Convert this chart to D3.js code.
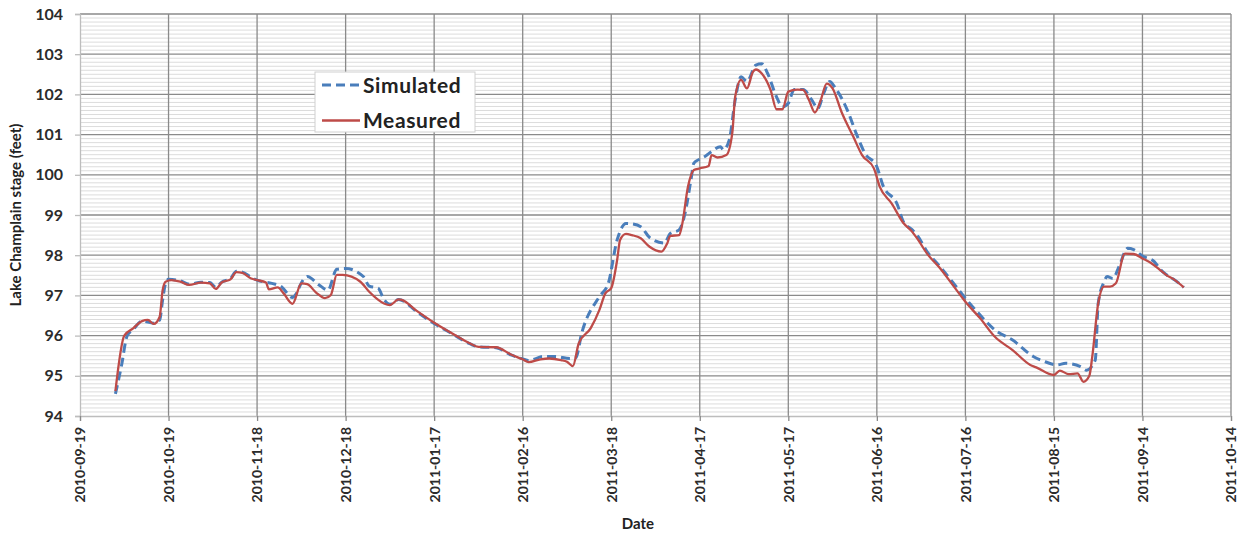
<!DOCTYPE html>
<html>
<head>
<meta charset="utf-8">
<script src="https://cdn.jsdelivr.net/npm/d3@7"></script>
<style>
  html, body { margin: 0; padding: 0; background: #fff; }
  svg { display: block; font-family: Lato, "Open Sans", sans-serif; }
</style>
</head>
<body>
<svg id="chart" width="1247" height="533"></svg>
<script>
// Lake Champlain stage, simulated vs measured (feet)
const xTickLabels = ["2010-09-19","2010-10-19","2010-11-18","2010-12-18","2011-01-17","2011-02-16",
  "2011-03-18","2011-04-17","2011-05-17","2011-06-16","2011-07-16","2011-08-15","2011-09-14","2011-10-14"];
const yTickValues = [94, 95, 96, 97, 98, 99, 100, 101, 102, 103, 104];

const measuredDates = ["2010-10-01","2010-10-04","2010-10-07","2010-10-10","2010-10-12","2010-10-14","2010-10-16","2010-10-17","2010-10-18","2010-10-20",
  "2010-10-23","2010-10-26","2010-10-30","2010-11-02","2010-11-04","2010-11-06","2010-11-09","2010-11-11","2010-11-13","2010-11-16",
  "2010-11-18","2010-11-21","2010-11-22","2010-11-25","2010-11-27","2010-11-30","2010-12-03","2010-12-05","2010-12-08","2010-12-11",
  "2010-12-13","2010-12-15","2010-12-17","2010-12-23","2010-12-26","2010-12-31","2011-01-02","2011-01-05","2011-01-06","2011-01-11",
  "2011-01-17","2011-01-23","2011-01-29","2011-02-01","2011-02-07","2011-02-12","2011-02-16","2011-02-18","2011-02-22","2011-02-25",
  "2011-03-01","2011-03-03","2011-03-05","2011-03-07","2011-03-11","2011-03-14","2011-03-16","2011-03-18","2011-03-20","2011-03-21",
  "2011-03-23","2011-03-25","2011-03-28","2011-03-31","2011-04-04","2011-04-06","2011-04-07","2011-04-10","2011-04-11","2011-04-13",
  "2011-04-15","2011-04-17","2011-04-20","2011-04-21","2011-04-23","2011-04-26","2011-04-28","2011-04-29","2011-05-01","2011-05-03",
  "2011-05-05","2011-05-06","2011-05-08","2011-05-11","2011-05-13","2011-05-15","2011-05-17","2011-05-20","2011-05-22","2011-05-24",
  "2011-05-26","2011-05-28","2011-05-30","2011-06-01","2011-06-04","2011-06-08","2011-06-11","2011-06-15","2011-06-17","2011-06-21",
  "2011-06-25","2011-06-28","2011-06-30","2011-07-03","2011-07-07","2011-07-12","2011-07-16","2011-07-21","2011-07-26","2011-08-01",
  "2011-08-07","2011-08-09","2011-08-15","2011-08-17","2011-08-20","2011-08-23","2011-08-25","2011-08-27","2011-08-28","2011-08-30",
  "2011-09-01","2011-09-03","2011-09-05","2011-09-08","2011-09-11","2011-09-14","2011-09-17","2011-09-20","2011-09-22","2011-09-25",
  "2011-09-28"];
const measuredStage = [94.62,96.00,96.18,96.36,96.39,96.29,96.47,97.13,97.34,97.38,
  97.34,97.26,97.32,97.30,97.16,97.32,97.40,97.58,97.56,97.42,
  97.38,97.32,97.15,97.20,97.05,96.79,97.30,97.28,97.07,96.93,
  97.01,97.51,97.51,97.34,97.09,96.80,96.76,96.90,96.89,96.62,
  96.32,96.06,95.81,95.72,95.71,95.53,95.41,95.34,95.41,95.43,
  95.39,95.35,95.24,95.81,96.18,96.64,97.05,97.18,97.88,98.38,
  98.53,98.50,98.42,98.21,98.09,98.30,98.48,98.50,98.75,99.70,
  100.12,100.16,100.22,100.49,100.43,100.49,101.03,101.94,102.36,102.15,
  102.56,102.62,102.52,102.11,101.63,101.63,102.07,102.12,102.11,101.86,
  101.55,101.86,102.27,102.15,101.57,100.95,100.49,100.16,99.70,99.29,
  98.80,98.58,98.38,98.04,97.71,97.23,96.84,96.43,95.97,95.64,
  95.27,95.21,95.02,95.13,95.04,95.06,94.85,95.00,95.48,96.80,
  97.22,97.22,97.30,98.04,98.03,97.92,97.80,97.63,97.51,97.38,
  97.20];

const simulatedDates = ["2010-10-01","2010-10-03","2010-10-05","2010-10-07","2010-10-10","2010-10-14","2010-10-16","2010-10-17","2010-10-18","2010-10-19",
  "2010-10-23","2010-10-26","2010-10-30","2010-11-02","2010-11-04","2010-11-06","2010-11-09","2010-11-11","2010-11-13","2010-11-16",
  "2010-11-18","2010-11-23","2010-11-26","2010-11-30","2010-12-04","2010-12-05","2010-12-09","2010-12-12","2010-12-15","2010-12-18",
  "2010-12-24","2010-12-26","2010-12-29","2010-12-31","2011-01-02","2011-01-05","2011-01-06","2011-01-11","2011-01-17","2011-01-23",
  "2011-01-29","2011-02-01","2011-02-07","2011-02-12","2011-02-16","2011-02-18","2011-02-23","2011-02-27","2011-03-04","2011-03-06",
  "2011-03-08","2011-03-14","2011-03-17","2011-03-20","2011-03-23","2011-03-25","2011-03-28","2011-03-31","2011-04-05","2011-04-07",
  "2011-04-10","2011-04-12","2011-04-14","2011-04-15","2011-04-17","2011-04-19","2011-04-21","2011-04-24","2011-04-25","2011-04-27",
  "2011-04-29","2011-05-01","2011-05-03","2011-05-06","2011-05-08","2011-05-10","2011-05-13","2011-05-15","2011-05-17","2011-05-19",
  "2011-05-22","2011-05-25","2011-05-27","2011-05-29","2011-05-31","2011-06-02","2011-06-06","2011-06-09","2011-06-12","2011-06-16",
  "2011-06-18","2011-06-23","2011-06-25","2011-06-28","2011-06-30","2011-07-03","2011-07-07","2011-07-12","2011-07-16","2011-07-21",
  "2011-07-26","2011-08-01","2011-08-08","2011-08-12","2011-08-16","2011-08-19","2011-08-24","2011-08-26","2011-08-29","2011-08-30",
  "2011-09-01","2011-09-02","2011-09-04","2011-09-06","2011-09-09","2011-09-11","2011-09-14","2011-09-18","2011-09-20","2011-09-22",
  "2011-09-25","2011-09-28"];
const simulatedStage = [94.55,95.23,96.00,96.15,96.36,96.31,96.39,96.89,97.30,97.40,
  97.36,97.28,97.33,97.32,97.20,97.33,97.42,97.60,97.58,97.45,
  97.38,97.30,97.23,96.95,97.42,97.47,97.26,97.13,97.65,97.67,
  97.47,97.23,97.18,96.90,96.78,96.90,96.88,96.60,96.30,96.05,
  95.80,95.72,95.70,95.52,95.42,95.38,95.48,95.48,95.43,95.45,
  96.06,96.97,97.30,98.38,98.79,98.78,98.71,98.44,98.30,98.54,
  98.63,99.04,99.87,100.29,100.39,100.47,100.58,100.70,100.62,100.87,
  101.86,102.44,102.32,102.73,102.76,102.52,101.94,101.69,101.78,102.12,
  102.12,101.86,101.65,102.03,102.32,102.15,101.61,101.03,100.53,100.20,
  99.75,99.25,98.83,98.63,98.46,98.09,97.75,97.30,96.93,96.51,
  96.14,95.89,95.48,95.35,95.27,95.31,95.23,95.14,95.39,96.80,
  97.34,97.47,97.42,97.71,98.17,98.14,97.98,97.84,97.65,97.52,
  97.38,97.20];

const parse = d3.utcParse("%Y-%m-%d");
const measured = measuredDates.map((d, i) => ({ date: parse(d), value: measuredStage[i] }));
const simulated = simulatedDates.map((d, i) => ({ date: parse(d), value: simulatedStage[i] }));
const xTicks = xTickLabels.map(parse);

const plot = { left: 80, right: 1231, top: 14, bottom: 416 };

const x = d3.scaleUtc()
  .domain([xTicks[0], xTicks[xTicks.length - 1]])
  .range([plot.left, plot.right]);
const y = d3.scaleLinear()
  .domain([94, 104])
  .range([plot.bottom, plot.top]);

const svg = d3.select("#chart");

// minor horizontal gridlines every 0.1 ft
const minor = d3.range(940, 1041).filter(v => v % 10 !== 0).map(v => v / 10);
svg.append("g")
  .selectAll("line").data(minor).join("line")
  .attr("x1", plot.left).attr("x2", plot.right)
  .attr("y1", d => y(d)).attr("y2", d => y(d))
  .attr("stroke", "#dcdcdc").attr("stroke-width", 1);

// major horizontal gridlines
svg.append("g")
  .selectAll("line").data(yTickValues.slice(1)).join("line")
  .attr("x1", plot.left).attr("x2", plot.right)
  .attr("y1", d => y(d)).attr("y2", d => y(d))
  .attr("stroke", "#8a8a8a").attr("stroke-width", 1.3);

// major vertical gridlines
svg.append("g")
  .selectAll("line").data(xTicks.slice(1)).join("line")
  .attr("x1", d => x(d)).attr("x2", d => x(d))
  .attr("y1", plot.top).attr("y2", plot.bottom)
  .attr("stroke", "#8a8a8a").attr("stroke-width", 1.3);

// y axis
const yAxis = svg.append("g")
  .attr("transform", `translate(${plot.left},0)`)
  .call(d3.axisLeft(y).tickValues(yTickValues).tickSize(5).tickPadding(12).tickFormat(d3.format("d")));
yAxis.select(".domain").attr("stroke", "#bdbdbd").attr("stroke-width", 1.3);
yAxis.selectAll(".tick line").attr("stroke", "#bdbdbd").attr("stroke-width", 1.3);
yAxis.selectAll(".tick text")
  .attr("fill", "#2b2b2b").attr("font-size", 16).attr("font-weight", "bold")
  .attr("font-family", "Lato, sans-serif");

// x axis
const xAxis = svg.append("g")
  .attr("transform", `translate(0,${plot.bottom})`)
  .call(d3.axisBottom(x).tickValues(xTicks).tickSize(5).tickFormat(d3.utcFormat("%Y-%m-%d")));
xAxis.select(".domain").attr("stroke", "#bdbdbd").attr("stroke-width", 1.3);
xAxis.selectAll(".tick line").attr("stroke", "#8a8a8a").attr("stroke-width", 1.3);
xAxis.selectAll(".tick text")
  .attr("fill", "#2b2b2b").attr("font-size", 14).attr("font-weight", "bold")
  .attr("font-family", "Lato, sans-serif")
  .attr("text-anchor", "end")
  .attr("transform", "rotate(-90)")
  .attr("x", -11).attr("y", 0).attr("dy", "0.35em");

// axis titles
svg.append("text")
  .attr("transform", `translate(21,${(plot.top + plot.bottom) / 2}) rotate(-90)`)
  .attr("text-anchor", "middle")
  .attr("font-size", 15).attr("font-weight", "bold").attr("fill", "#222")
  .text("Lake Champlain stage (feet)");
svg.append("text")
  .attr("x", 638).attr("y", 529)
  .attr("text-anchor", "middle")
  .attr("font-size", 15).attr("font-weight", "bold").attr("fill", "#222")
  .text("Date");

// series
const line = d3.line().curve(d3.curveMonotoneX).x(d => x(d.date)).y(d => y(d.value));
svg.append("path").datum(simulated)
  .attr("fill", "none").attr("stroke", "#4a7ebb").attr("stroke-width", 3)
  .attr("stroke-dasharray", "9,5").attr("stroke-linejoin", "round")
  .attr("d", line);
svg.append("path").datum(measured)
  .attr("fill", "none").attr("stroke", "#be4b48").attr("stroke-width", 2.3)
  .attr("stroke-linejoin", "round")
  .attr("d", line);

// legend
const legendItems = [
  { name: "Simulated", color: "#4a7ebb", dash: "9,5", width: 3 },
  { name: "Measured", color: "#be4b48", dash: null, width: 2.3 }
];
const legend = svg.append("g").attr("transform", "translate(315,72)");
legend.append("rect")
  .attr("width", 160).attr("height", 60)
  .attr("fill", "#fff").attr("stroke", "#d0d0d0").attr("stroke-width", 1);
legendItems.forEach((item, i) => {
  const cy = 13 + i * 35.5;
  legend.append("line")
    .attr("x1", 7).attr("x2", 45).attr("y1", cy).attr("y2", cy)
    .attr("stroke", item.color).attr("stroke-width", item.width)
    .attr("stroke-dasharray", item.dash);
  legend.append("text")
    .attr("x", 48).attr("y", cy + 7.5)
    .attr("font-size", 21).attr("font-weight", "bold").attr("fill", "#222")
    .attr("letter-spacing", 0.6)
    .text(item.name);
});
</script>
</body>
</html>
